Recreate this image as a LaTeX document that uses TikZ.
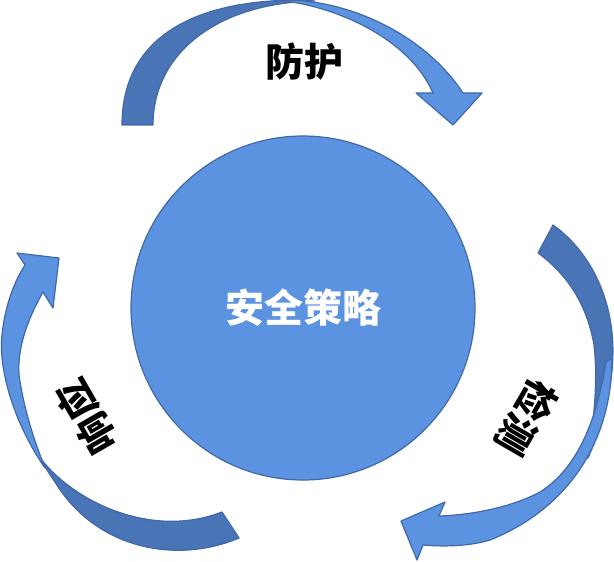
\documentclass[tikz,border=0pt]{standalone}
\usepackage{fontspec}
\usepackage{tikz}
\newfontfamily\cjk{Noto Sans CJK SC}
\definecolor{arrowfront}{RGB}{91,147,224}
\definecolor{arrowback}{RGB}{73,117,183}
\definecolor{arrowedge}{RGB}{65,104,168}

\begin{document}
\begin{tikzpicture}[x=0.5pt, y=-0.5pt,
  front/.style={fill=arrowfront, draw=arrowedge, line width=0.6pt, line join=round},
  back/.style={fill=arrowback, draw=arrowedge, line width=0.6pt, line join=round},
  word/.style={font=\cjk\bfseries\fontsize{19.5}{23}\selectfont, inner sep=0pt},
  core/.style={circle, fill=arrowfront, draw=arrowedge, line width=0.6pt,
    minimum size=172pt, inner sep=0pt, text=white}]

\useasboundingbox (0,0) rectangle (614,561);

%%%%%%%%%%%%  centre %%%%%%%%%%%%%
\node[core, word, text=white] (strategy) at (303,308) {安全策略};

% TOP %
{
\draw[back] (122,125) .. controls (122,40) and (190,0) .. (300,0) -- (315,1)
  .. controls (215,3) and (153,55) .. (153,125) -- cycle;
\draw[front] (285,0) .. controls (350,0) and (425,35) .. (463,93)
  -- (482,93) -- (453,125) -- (416,93) -- (433,93)
  .. controls (410,40) and (340,8) .. (285,1) -- cycle;
\node[word] (protect) at (304,62) {防护};
}

% RIGHT %
{
\draw[back] (553,225) .. controls (595,255) and (618,310) .. (612,370)
  .. controls (609,400) and (600,430) .. (588,458)
  .. controls (594,420) and (598,380) .. (594,345)
  .. controls (587,305) and (568,275) .. (538,253) -- cycle;
\draw[front] (612,358) .. controls (612,445) and (565,510) .. (490,540)
  .. controls (470,546) and (445,547) .. (423,545)
  -- (417,560) -- (401,521) -- (445,502) -- (439,516)
  .. controls (470,515) and (510,508) .. (540,492)
  .. controls (575,470) and (596,425) .. (606,362) -- cycle;
\node[word, rotate=-120] (detect) at (527,418) {检测};
}

% LEFT %
{
\draw[back] (239,538) .. controls (175,565) and (95,548) .. (55,482)
  .. controls (48,472) and (42,462) .. (38,455)
  .. controls (70,500) and (150,540) .. (222,512) -- cycle;
\draw[front] (45,468) .. controls (15,425) and (-2,370) .. (2,335)
  .. controls (5,305) and (15,280) .. (25,265)
  -- (17,253) -- (59,258) -- (53,308) -- (43,292)
  .. controls (30,315) and (17,345) .. (19,375)
  .. controls (24,410) and (34,440) .. (45,468) -- cycle;
\node[word, rotate=120] (respond) at (87,417) {响应};
}

\end{tikzpicture}
\end{document}
